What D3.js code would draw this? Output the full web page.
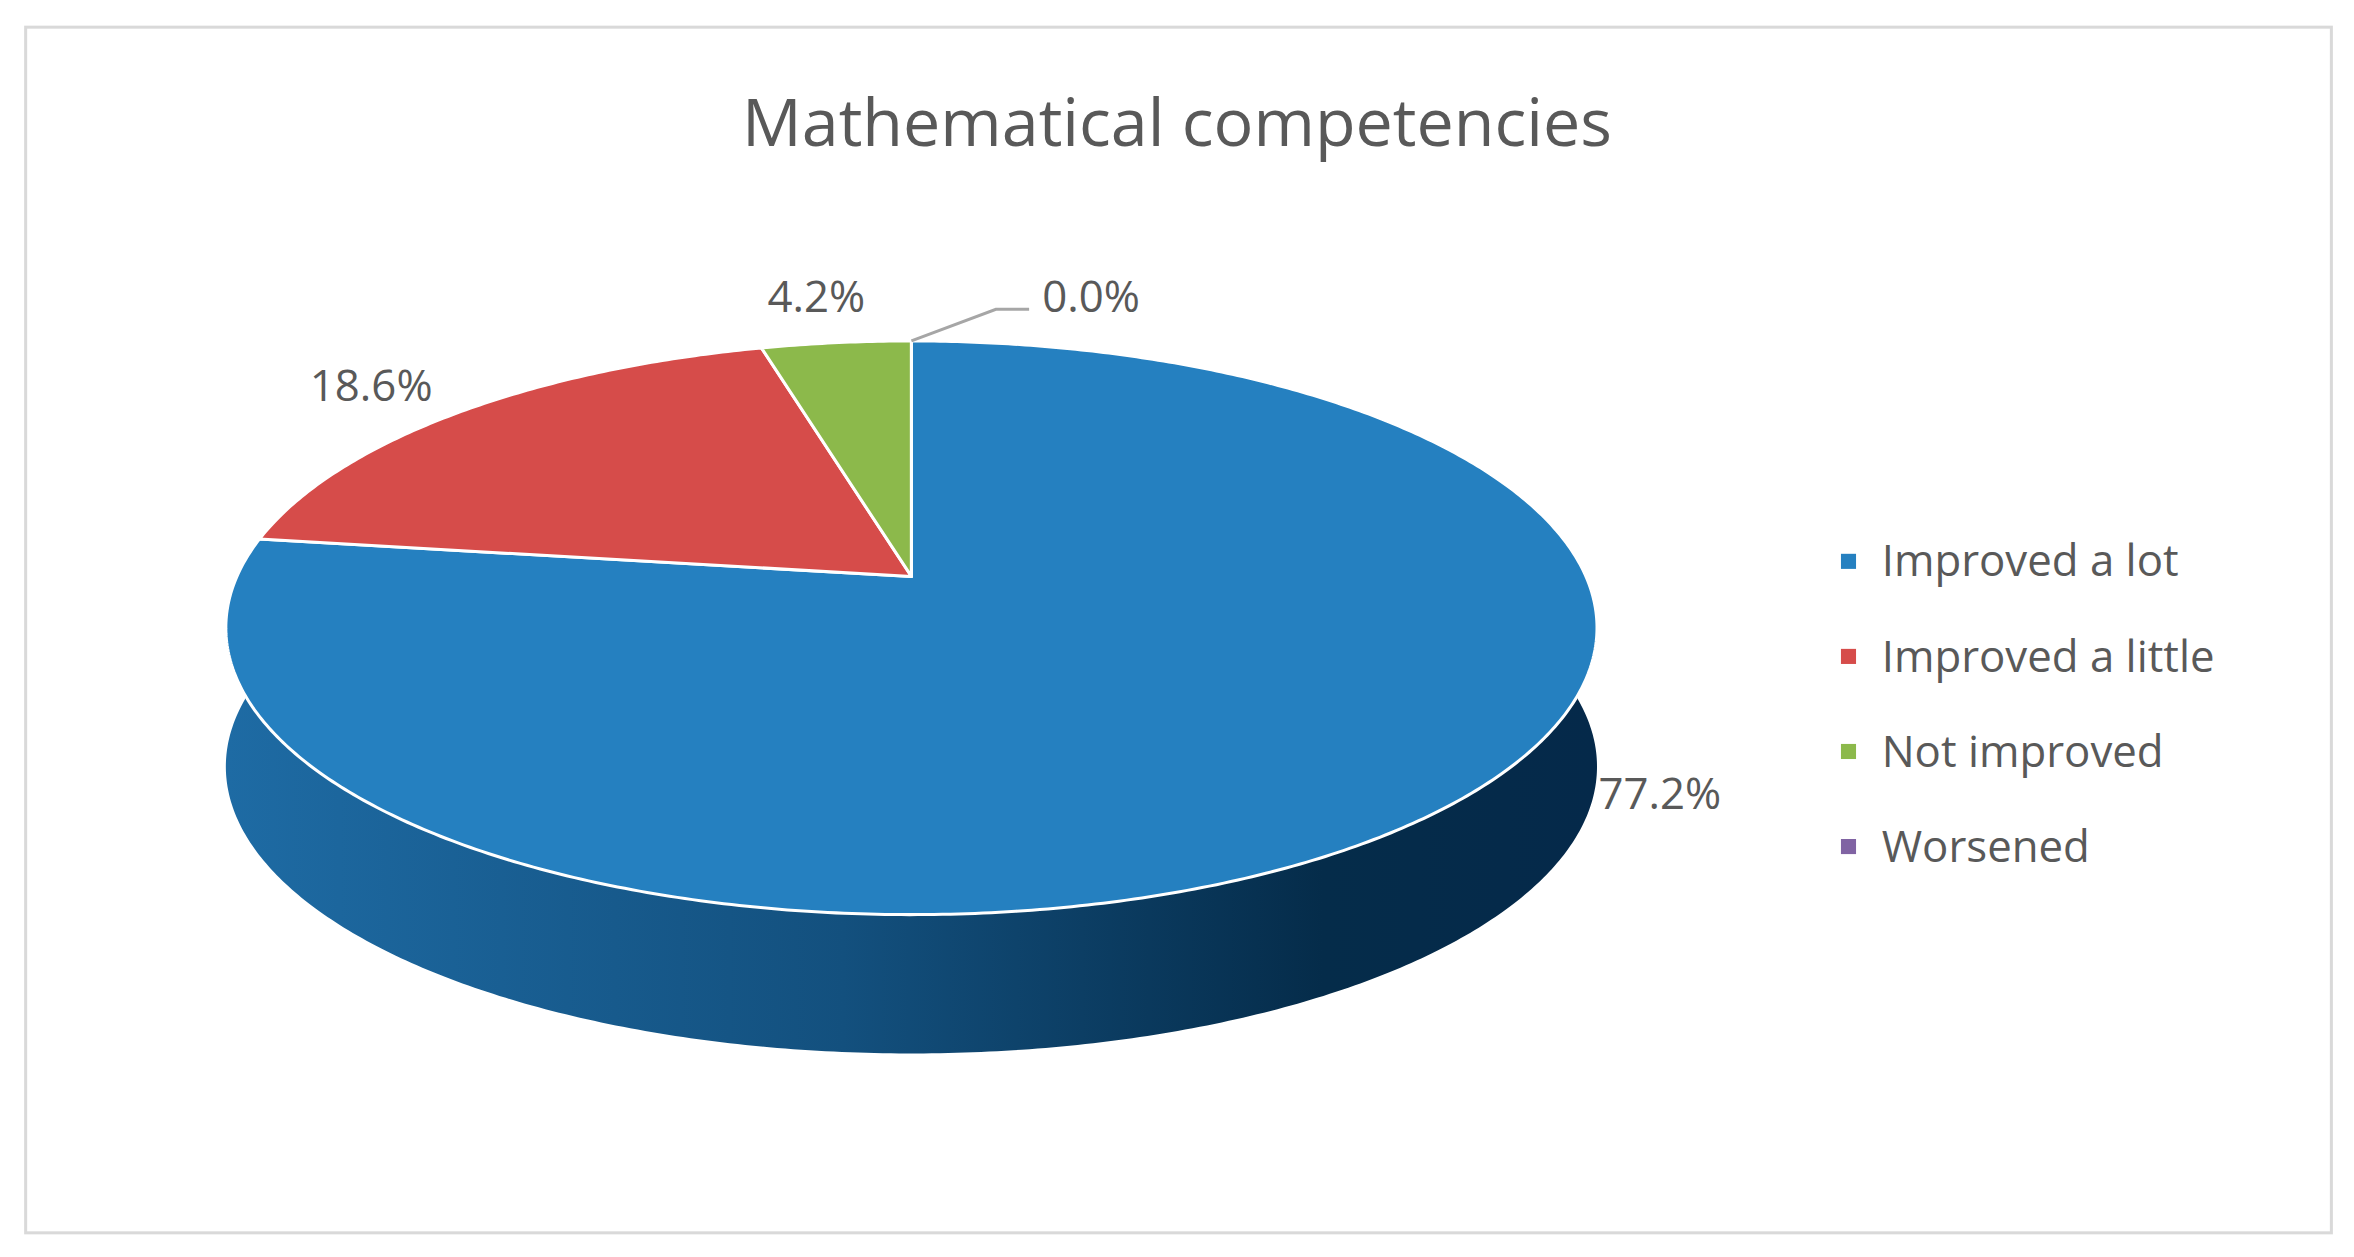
<!DOCTYPE html>
<html>
<head>
<meta charset="utf-8">
<script src="https://cdn.jsdelivr.net/npm/d3@7"></script>
<style>
	body { margin: 0; background: #fff; }
	text { font-family: "Open Sans", sans-serif; fill: #595959; }
</style>
</head>
<body>
<svg id="chart" width="2354" height="1257" viewBox="0 0 1560 833"></svg>
<script>
var categories = ['Improved a lot', 'Improved a little', 'Not improved', 'Worsened'];
var values = [77.2, 18.6, 4.2, 0.0];
var colors = ['#2580c0', '#d64c4a', '#8cb94b', '#8063a3'];

var svg = d3.select('#chart');

svg.append('rect')
	.attr('x', 17).attr('y', 18).attr('width', 1528).attr('height', 799)
	.attr('fill', '#fff').attr('stroke', '#d9d9d9').attr('stroke-width', 2);

svg.append('text')
	.attr('x', 780).attr('y', 97)
	.attr('text-anchor', 'middle')
	.style('font-size', '44px')
	.text('Mathematical competencies');

// perspective projection of the pie disc
var cx = 604, cy = 382, A = 184, B = 447, k = -0.179, depth = 92;
function project(theta, r, dy) {
	var u = r * Math.sin(theta), v = -r * Math.cos(theta);
	var d = 1 + k * v;
	return [cx + B * u / d, cy + A * v / d + (dy || 0)];
}
function arcPoints(a0, a1, dy) {
	var n = Math.max(2, Math.ceil((a1 - a0) / 0.01));
	return d3.range(n + 1).map(function(i) { return project(a0 + (a1 - a0) * i / n, 1, dy); });
}

var pie = d3.pie().sort(null).value(function(d) { return d; });
var arcs = pie(values);

var defs = svg.append('defs');
var grad = defs.append('linearGradient').attr('id', 'sideGrad')
	.attr('x1', '0%').attr('x2', '100%').attr('y1', '0%').attr('y2', '0%');
grad.append('stop').attr('offset', '0%').attr('stop-color', '#1e6ba4');
grad.append('stop').attr('offset', '45%').attr('stop-color', '#13507e');
grad.append('stop').attr('offset', '80%').attr('stop-color', '#052c4a');
grad.append('stop').attr('offset', '100%').attr('stop-color', '#05294a');

// front side wall (only the blue slice reaches the front half)
var front = arcPoints(Math.PI / 2 - 0.06, 3 * Math.PI / 2 + 0.06, 0);
var frontLow = arcPoints(Math.PI / 2 - 0.06, 3 * Math.PI / 2 + 0.06, depth).reverse();
svg.append('path')
	.attr('d', d3.line()(front.concat(frontLow)) + 'Z')
	.attr('fill', 'url(#sideGrad)');

// top faces
svg.selectAll('path.slice')
	.data(arcs)
	.enter()
	.append('path')
	.classed('slice', true)
	.attr('d', function(d) {
		return d3.line()([[cx, cy]].concat(arcPoints(d.startAngle, d.endAngle, 0))) + 'Z';
	})
	.attr('fill', function(d, i) { return colors[i]; })
	.attr('stroke', '#fff')
	.attr('stroke-width', 2)
	.attr('stroke-linejoin', 'round');

// data labels
var labelPos = [[1100, 536], [246, 266], [541, 207], [723, 207]];
svg.selectAll('text.lbl')
	.data(arcs)
	.enter()
	.append('text')
	.classed('lbl', true)
	.attr('x', function(d, i) { return labelPos[i][0]; })
	.attr('y', function(d, i) { return labelPos[i][1]; })
	.attr('text-anchor', 'middle')
	.style('font-size', '29px')
	.text(function(d) { return d.data.toFixed(1) + '%'; });

// leader line for the zero slice
var tip = project(arcs[3].startAngle, 1, 0);
svg.append('polyline')
	.attr('points', [tip, [660, 205], [682, 205]].map(function(p) { return p.join(','); }).join(' '))
	.attr('fill', 'none').attr('stroke', '#a6a6a6').attr('stroke-width', 2);

// legend
var legend = svg.selectAll('g.legend')
	.data(categories)
	.enter()
	.append('g')
	.classed('legend', true)
	.attr('transform', function(d, i) { return 'translate(1220,' + (372 + i * 63) + ')'; });
legend.append('rect')
	.attr('x', 0).attr('y', -5).attr('width', 10).attr('height', 10)
	.attr('fill', function(d, i) { return colors[i]; });
legend.append('text')
	.attr('x', 27).attr('y', 10)
	.style('font-size', '29px')
	.text(function(d) { return d; });
</script>
</body>
</html>
